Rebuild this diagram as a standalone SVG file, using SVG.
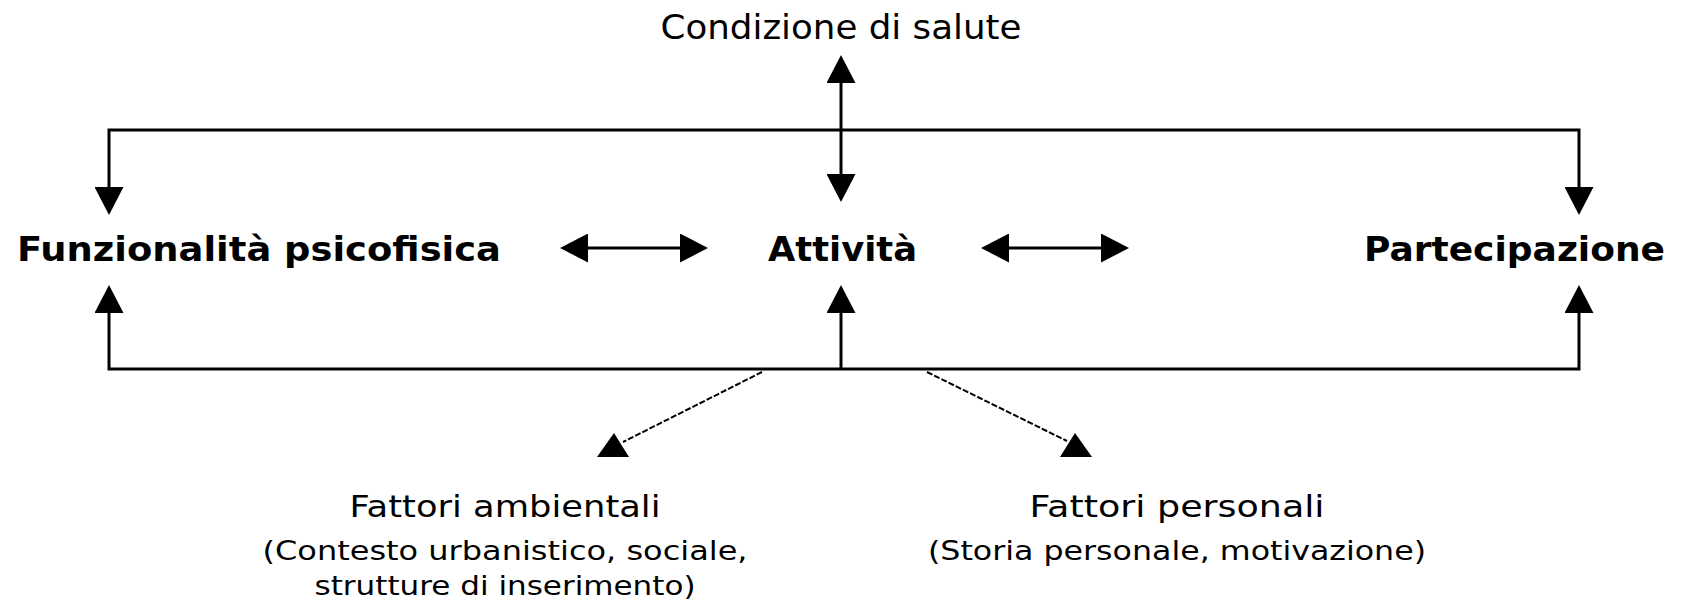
<svg xmlns="http://www.w3.org/2000/svg" width="1687" height="601" viewBox="0 0 1687 601">
<style>
.reg{font-family:"DejaVu Sans","Liberation Sans",sans-serif;font-weight:normal;fill:#000}
.bold{font-family:"DejaVu Sans","Liberation Sans",sans-serif;font-weight:bold;fill:#000}
.ln{fill:none;stroke:#000;stroke-width:3}
.dash{fill:none;stroke:#000;stroke-width:2;stroke-dasharray:6 2}
.head{fill:#000}
</style>
<defs>
<marker id="arr" viewBox="0 0 28 29" markerUnits="userSpaceOnUse" markerWidth="28" markerHeight="29" refX="0" refY="14.5" orient="auto-start-reverse">
<path d="M0,0 L28,14.5 L0,29 Z" fill="#000"/>
</marker>
</defs>
<rect width="1687" height="601" fill="#fff"/>
<g id="connectors">
<path class="ln" d="M109,187 V130 H1579 V187" marker-start="url(#arr)" marker-end="url(#arr)"/>
<path class="ln" d="M109,313 V369 H1579 V313" marker-start="url(#arr)" marker-end="url(#arr)"/>
<path class="ln" d="M841,83 V174" marker-start="url(#arr)" marker-end="url(#arr)"/>
<path class="ln" d="M841,369 V313" marker-end="url(#arr)"/>
<path class="ln" d="M588,248 H680" marker-start="url(#arr)" marker-end="url(#arr)"/>
<path class="ln" d="M1009,248 H1101" marker-start="url(#arr)" marker-end="url(#arr)"/>
<path class="dash" d="M762,372 L623,442"/>
<polygon class="head" points="597,457 629,457 614,433"/>
<path class="dash" d="M927,372 L1067,441"/>
<polygon class="head" points="1060,457 1092,457 1075,433"/>
</g>
<g id="node-salute">
<text class="reg" x="841" y="39" font-size="34" text-anchor="middle" textLength="361" lengthAdjust="spacingAndGlyphs">Condizione di salute</text>
</g>
<g id="node-funzionalita">
<text class="bold" x="17" y="261" font-size="33" textLength="484" lengthAdjust="spacingAndGlyphs">Funzionalità psicofisica</text>
</g>
<g id="node-attivita">
<text class="bold" x="768" y="261" font-size="33" textLength="149" lengthAdjust="spacingAndGlyphs">Attività</text>
</g>
<g id="node-partecipazione">
<text class="bold" x="1364" y="261" font-size="33" textLength="301" lengthAdjust="spacingAndGlyphs">Partecipazione</text>
</g>
<g id="node-ambientali">
<text class="reg" x="505" y="517" font-size="30" text-anchor="middle" textLength="311" lengthAdjust="spacingAndGlyphs">Fattori ambientali</text>
<text class="reg" x="505" y="560" font-size="26" text-anchor="middle" textLength="485" lengthAdjust="spacingAndGlyphs">(Contesto urbanistico, sociale,</text>
<text class="reg" x="505" y="595" font-size="26" text-anchor="middle" textLength="381" lengthAdjust="spacingAndGlyphs">strutture di inserimento)</text>
</g>
<g id="node-personali">
<text class="reg" x="1177" y="517" font-size="30" text-anchor="middle" textLength="295" lengthAdjust="spacingAndGlyphs">Fattori personali</text>
<text class="reg" x="1177" y="560" font-size="26" text-anchor="middle" textLength="498" lengthAdjust="spacingAndGlyphs">(Storia personale, motivazione)</text>
</g>
</svg>
